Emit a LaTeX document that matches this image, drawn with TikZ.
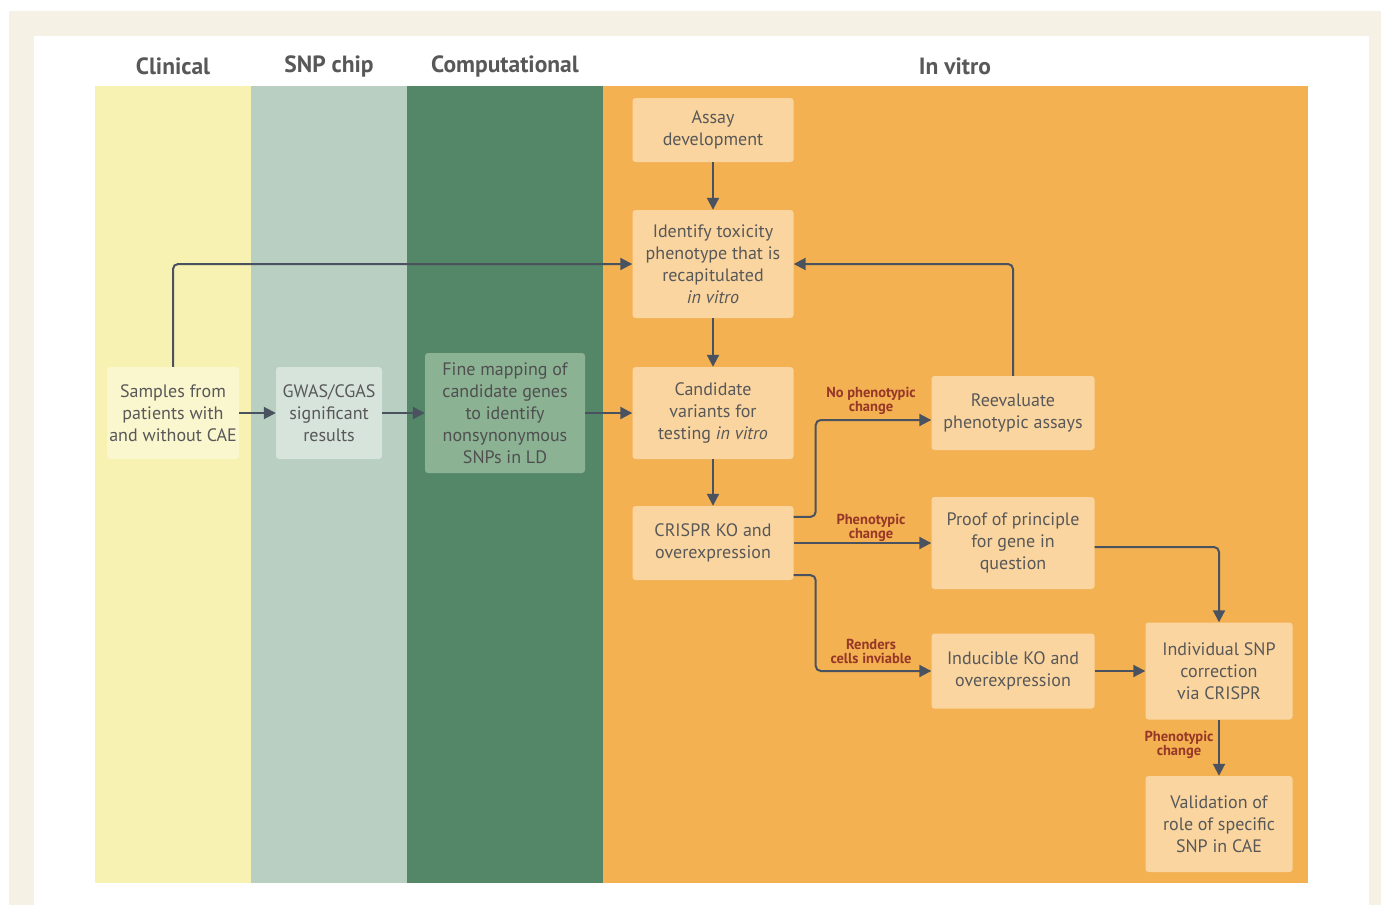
\documentclass[tikz,border=0pt]{standalone}
\usepackage{fontspec}
\setmainfont{PT Sans}
\usetikzlibrary{arrows.meta, positioning, calc}
\definecolor{cream}{RGB}{245,241,228}
\definecolor{clin}{RGB}{248,242,178}
\definecolor{chip}{RGB}{184,207,194}
\definecolor{comp}{RGB}{84,135,104}
\definecolor{vitro}{RGB}{243,177,82}
\definecolor{peach}{RGB}{250,213,160}
\definecolor{clinbox}{RGB}{250,246,206}
\definecolor{chipbox}{RGB}{214,228,219}
\definecolor{compbox}{RGB}{140,178,148}
\definecolor{ink}{RGB}{88,88,88}
\definecolor{wire}{RGB}{75,82,95}
\definecolor{note}{RGB}{150,55,40}
\tikzset{
  stepbox/.style={fill=peach, rounded corners=3pt, align=center, text=ink,
    font=\fontsize{18}{22}\selectfont, inner sep=1pt},
  head/.style={text=ink, font=\fontsize{23.5}{26}\selectfont\bfseries},
  tag/.style={text=note, align=center, font=\fontsize{14.5}{14}\selectfont\bfseries, inner sep=0pt},
  flow/.style={draw=wire, line width=2pt, rounded corners=5pt,
    -{Triangle[length=12pt,width=12pt]}},
}
\begin{document}
\begin{tikzpicture}[x=1pt, y=-1pt]
  \useasboundingbox (0,0) rectangle (1381,905);
  % frame
  \fill[cream] (9,11) rectangle (1381,905);
  \fill[white] (34,36) rectangle (1369,905);

  % columns
  \fill[clin] (95,86) rectangle (251,883);
  \fill[chip] (251,86) rectangle (407,883);
  \fill[comp] (407,86) rectangle (603,883);
  \fill[vitro] (603,86) rectangle (1308,883);

  % headers
  \node[head] (hclin) at (173,66) {Clinical};
  \node[head] (hchip) at (329,66) {SNP chip};
  \node[head] (hcomp) at (505,66) {Computational};
  \node[head] (hvitro) at (955,66) {In vitro};

  % boxes
  \node[stepbox, fill=clinbox, minimum width=132pt, minimum height=92pt] (samples) at (173,413) {Samples from\\patients with\\and without CAE};
  \node[stepbox, fill=chipbox, minimum width=106pt, minimum height=92pt] (gwas) at (329,413) {GWAS/CGAS\\significant\\results};
  \node[stepbox, fill=compbox, text=ink!90!black, minimum width=160pt, minimum height=120pt] (finemap) at (505,413) {Fine mapping of\\candidate genes\\to identify\\nonsynonymous\\SNPs in LD};
  \node[stepbox, minimum width=161pt, minimum height=64pt] (assay) at (713,130) {Assay\\development};
  \node[stepbox, minimum width=161pt, minimum height=108pt] (ident) at (713,264) {Identify toxicity\\phenotype that is\\recapitulated\\\textit{in vitro}};
  \node[stepbox, minimum width=161pt, minimum height=92pt] (cand) at (713,413) {Candidate\\variants for\\testing \textit{in vitro}};
  \node[stepbox, minimum width=161pt, minimum height=74pt] (crispr) at (713,543) {CRISPR KO and\\overexpression};
  \node[stepbox, minimum width=163pt, minimum height=74pt] (reeval) at (1013,413) {Reevaluate\\phenotypic assays};
  \node[stepbox, minimum width=163pt, minimum height=92pt] (proof) at (1013,543) {Proof of principle\\for gene in\\question};
  \node[stepbox, minimum width=163pt, minimum height=75pt] (induc) at (1013,671) {Inducible KO and\\overexpression};
  \node[stepbox, minimum width=147pt, minimum height=97pt] (indiv) at (1219,671) {Individual SNP\\correction\\via CRISPR};
  \node[stepbox, minimum width=147pt, minimum height=96pt] (valid) at (1219,824) {Validation of\\role of specific\\SNP in CAE};

  % arrows
  \draw[flow] (samples) -- (gwas);
  \draw[flow] (gwas) -- (finemap);
  \draw[flow] (finemap) -- (cand);
  \draw[flow] (assay) -- (ident);
  \draw[flow] (ident) -- (cand);
  \draw[flow] (cand) -- (crispr);
  \draw[flow] (samples.north) |- (ident.west);
  \draw[flow] (reeval.north) |- (ident.east);
  \draw[flow] ([yshift=-11pt]crispr.north east) -- ++(22,0) |- ([yshift=-7pt]reeval.west);
  \draw[flow] (crispr.east) -- (proof.west);
  \draw[flow] ([yshift=5pt]crispr.south east) -- ++(22,0) |- (induc.west);
  \draw[flow] ([yshift=-4pt]proof.east) -| (indiv.north);
  \draw[flow] (induc) -- (indiv);
  \draw[flow] (indiv) -- (valid);

  % arrow labels
  \node[tag] (tnone) at (871,401) {No phenotypic\\change};
  \node[tag] (tproof) at (871,528) {Phenotypic\\change};
  \node[tag] (tdead) at (871,651) {Renders\\cells inviable};
  \node[tag] (tsnp) at (1179,745) {Phenotypic\\change};
\end{tikzpicture}
\end{document}
